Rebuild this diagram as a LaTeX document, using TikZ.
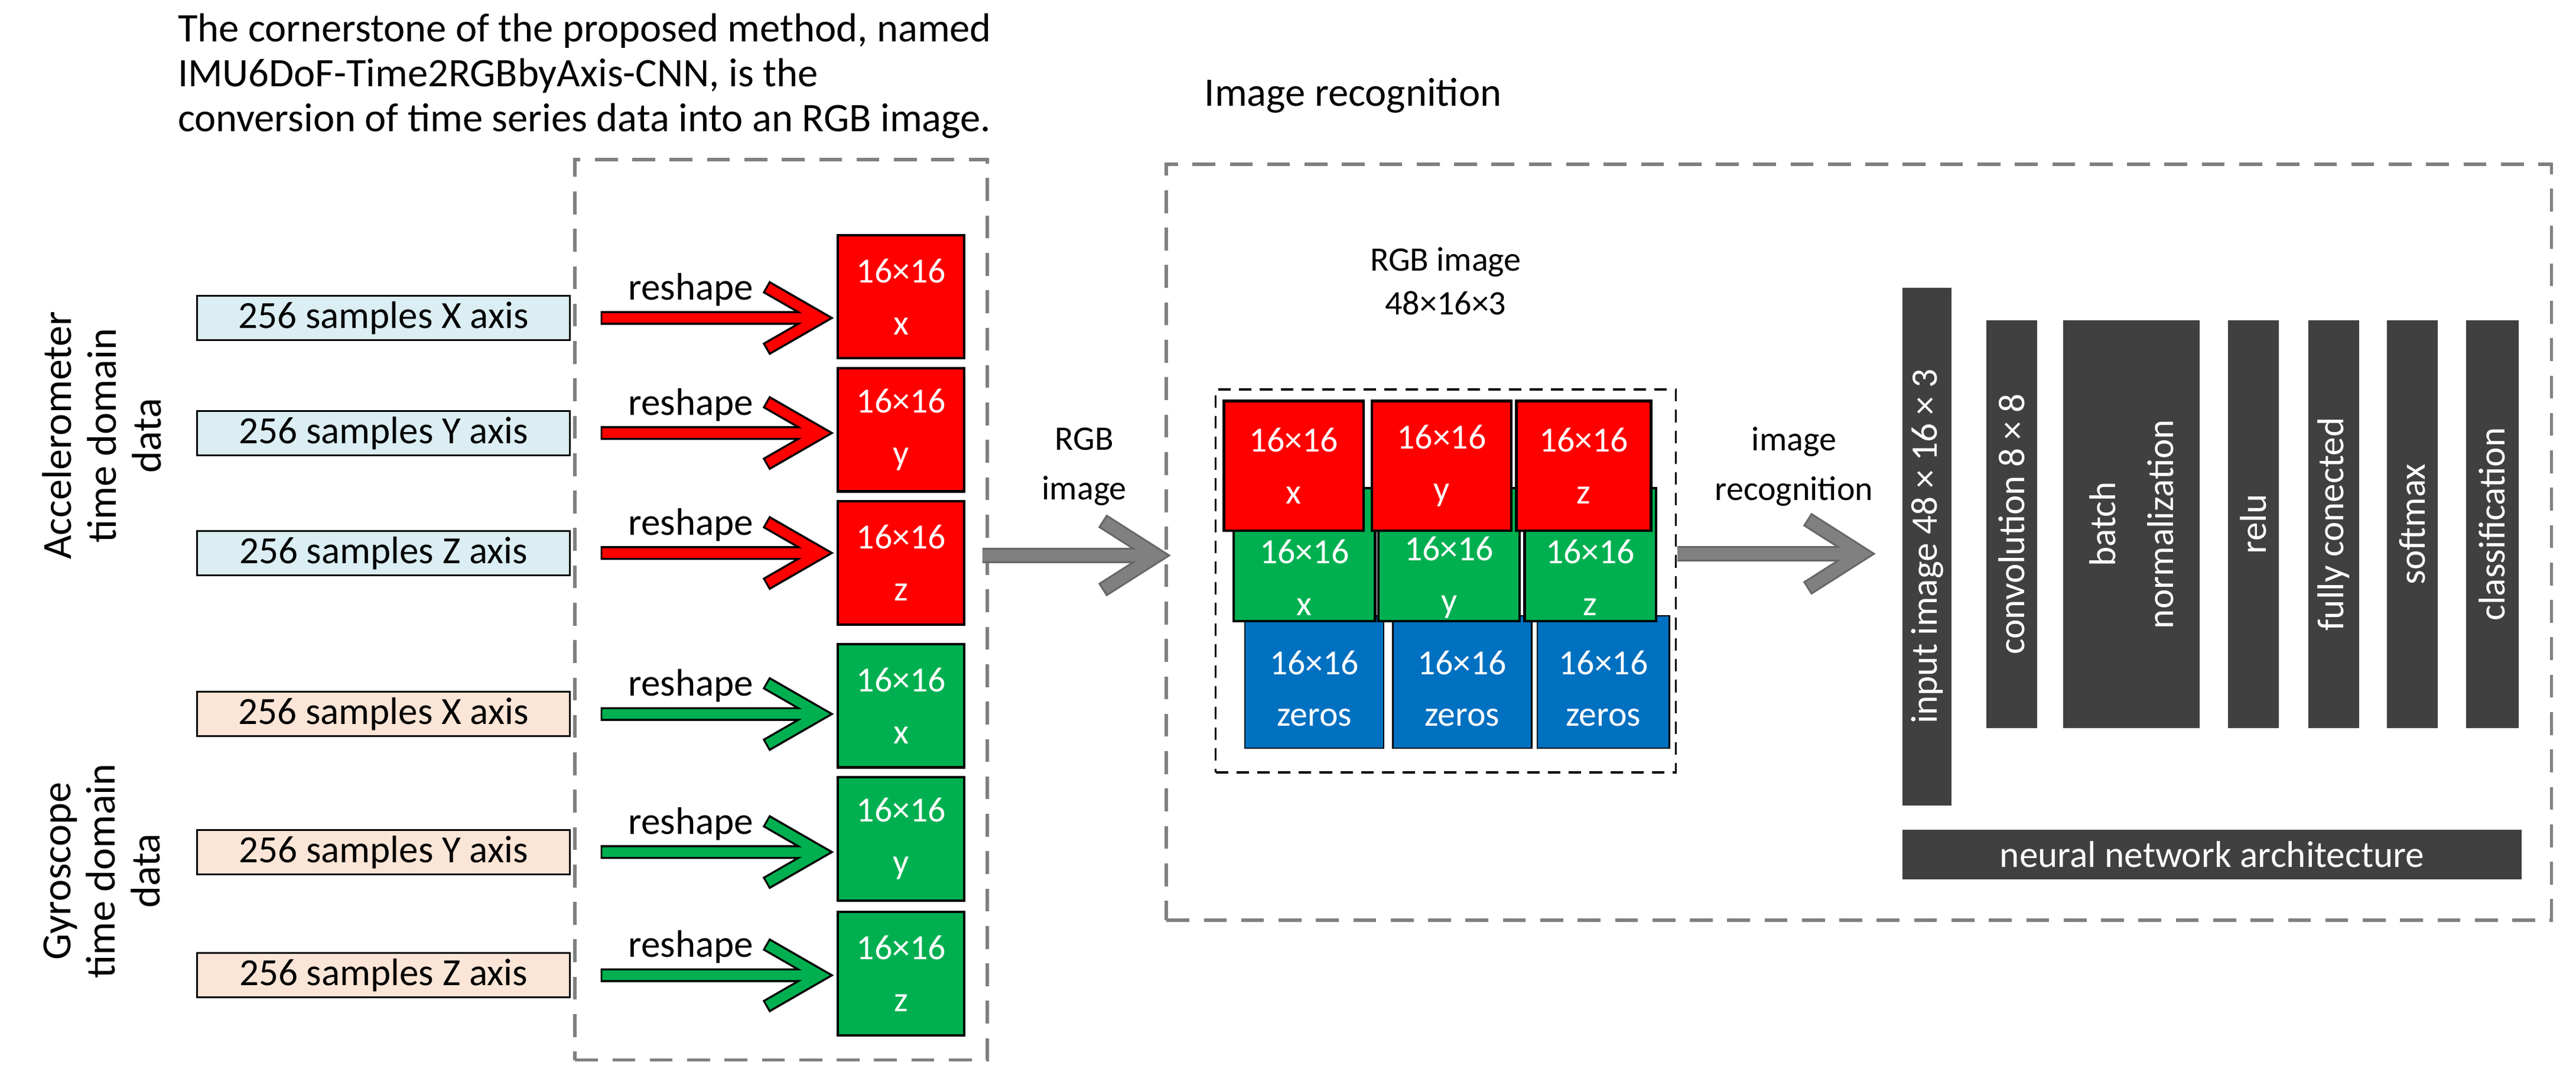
\documentclass[tikz,border=0pt]{standalone}
\usepackage{fontspec}
\setmainfont{Carlito}
\usetikzlibrary{calc}
\definecolor{cR}{HTML}{FF0000}
\definecolor{cG}{HTML}{00B050}
\definecolor{cB}{HTML}{0070C0}
\definecolor{cLB}{HTML}{DAEEF3}
\definecolor{cPe}{HTML}{FBE5D6}
\definecolor{cDk}{HTML}{404040}
\definecolor{cGr}{HTML}{808080}
\newcommand\bx[7]{\node[#1,minimum width={(#5-#3)*0.0278cm},minimum height={(#6-#4)*0.0278cm}] (#2) at ({(#3+#5)/2},{(#4+#6)/2}) {#7};}
\newcommand\chev[3]{%
 \coordinate (T) at ($(#2.east -| #3.west)+(-10,0)$);
 \draw[black,line width=6.6pt,miter limit=10] ($(#2.east)+(18,0)$) -- (T) ($(T)+(-33,-19)$) -- (T) -- ($(T)+(-33,19)$);
 \draw[#1,line width=4.6pt,miter limit=10] ($(#2.east)+(19,0)$) -- (T) ($(T)+(-32,-18.4)$) -- (T) -- ($(T)+(-32,18.4)$);
 \node[font=\fontsize{18.5}{20}\selectfont,anchor=base] at ($(#2.east)+(73,-11)$) {reshape};}
\newcommand\garrow[2]{%
 \coordinate (T) at (#2);
 \draw[cGr!80!black,line width=7.4pt,miter limit=10] (#1) -- (T) ($(T)+(-33,-21)$) -- (T) -- ($(T)+(-33,21)$);
 \draw[cGr,line width=5.6pt,miter limit=10] (#1) -- (T) ($(T)+(-32,-20.4)$) -- (T) -- ($(T)+(-32,20.4)$);}
\tikzset{
 inb/.style={draw=black,line width=0.9pt,font=\fontsize{18.5}{20}\selectfont,inner sep=0pt},
 blk/.style={draw=black,line width=1.2pt,text=white,align=center,font=\fontsize{17}{25}\selectfont,inner sep=0pt},
 bt/.style={text=white,align=center,font=\fontsize{17}{25}\selectfont},
 bar/.style={fill=cDk,inner sep=0pt},
 bart/.style={text=white,rotate=90,font=\fontsize{18}{19}\selectfont,align=center},
 dbox/.style={draw=cGr,line width=1.6pt,dash pattern=on 11pt off 7pt,inner sep=0pt},
}
\begin{document}
\begin{tikzpicture}[x=0.0278cm,y=-0.0278cm]
\useasboundingbox (0,0) rectangle (1568,654);
% title
\node[anchor=north west,align=left,font=\fontsize{19.5}{21.6}\selectfont,inner sep=0pt] (title) at (108,8) {The cornerstone of the proposed method, named\\IMU6DoF-Time2RGBbyAxis-CNN, is the\\conversion of time series data into an RGB image.};
\node[anchor=west,font=\fontsize{19.5}{20}\selectfont,inner sep=0pt] (irt) at (733,58) {Image recognition};
% dashed boxes
\bx{dbox}{d1}{350}{97}{601}{645}{}
\bx{dbox}{d2}{710}{100}{1553}{560}{}
% side labels
\node[rotate=90,align=center,font=\fontsize{20}{21.5}\selectfont] (acc) at (62,265) {Accelerometer\\time domain\\data};
\node[rotate=90,align=center,font=\fontsize{20}{21.5}\selectfont] (gyr) at (62,530) {Gyroscope\\time domain\\data};
% inputs
\bx{inb,fill=cLB}{i1}{120}{180}{347}{207}{256 samples X axis}
\bx{inb,fill=cLB}{i2}{120}{250}{347}{277}{256 samples Y axis}
\bx{inb,fill=cLB}{i3}{120}{323}{347}{350}{256 samples Z axis}
\bx{inb,fill=cPe}{i4}{120}{421}{347}{448}{256 samples X axis}
\bx{inb,fill=cPe}{i5}{120}{505}{347}{532}{256 samples Y axis}
\bx{inb,fill=cPe}{i6}{120}{580}{347}{607}{256 samples Z axis}
% reshaped blocks
\bx{blk,fill=cR}{r1}{510}{143}{587}{218}{16×16\\x}
\bx{blk,fill=cR}{r2}{510}{224}{587}{299}{16×16\\y}
\bx{blk,fill=cR}{r3}{510}{305}{587}{380}{16×16\\z}
\bx{blk,fill=cG}{g1}{510}{392}{587}{467}{16×16\\x}
\bx{blk,fill=cG}{g2}{510}{473}{587}{548}{16×16\\y}
\bx{blk,fill=cG}{g3}{510}{555}{587}{630}{16×16\\z}
\chev{cR}{i1}{r1}
\chev{cR}{i2}{r2}
\chev{cR}{i3}{r3}
\chev{cG}{i4}{g1}
\chev{cG}{i5}{g2}
\chev{cG}{i6}{g3}
% RGB image arrow
\coordinate (a1) at (598,338);
\garrow{a1}{$(d2.west |- a1)+(-5,0)$}
\node[align=center,font=\fontsize{16.5}{24}\selectfont] (rgbl) at (660,284) {RGB\\image};
% RGB stack
\bx{draw=black,line width=1pt,dash pattern=on 6pt off 4pt,inner sep=0pt}{d3}{740}{237}{1020}{470}{}
\node[align=center,font=\fontsize{16.5}{21}\selectfont] (rgbt) at (880,171) {RGB image\\48×16×3};
\bx{blk}{b1}{758}{375}{842}{455}{}
\bx{blk}{b2}{848}{375}{932}{455}{}
\bx{blk}{b3}{936}{375}{1016}{455}{}
\foreach \n in {b1,b2,b3}{\fill[cB] ($(\n.south west)+(1,-1)$) rectangle ($(\n.north east)+(-1,1)$); \node[bt] at ($(\n.center)+(0,4)$) {16×16\\zeros};}
\bx{blk,fill=cG}{gg1}{751}{297}{837}{378}{}
\bx{blk,fill=cG}{gg2}{839}{297}{925}{378}{}
\bx{blk,fill=cG}{gg3}{928}{297}{1008}{378}{}
\node[bt] at ($(gg1.center)+(0,14)$) {16×16\\x};
\node[bt] at ($(gg2.center)+(0,14)$) {16×16\\y};
\node[bt] at ($(gg3.center)+(0,14)$) {16×16\\z};
\bx{blk,fill=cR}{rr1}{745}{244}{830}{323}{16×16\\x}
\bx{blk,fill=cR}{rr2}{835}{244}{920}{323}{16×16\\y}
\bx{blk,fill=cR}{rr3}{923}{244}{1005}{323}{16×16\\z}
% image recognition arrow
\coordinate (a2) at (1021,337);
\garrow{a2}{1133,337}
\node[align=center,font=\fontsize{16.5}{24}\selectfont] (irl) at (1092,284) {image\\recognition};
% network bars
\bx{bar}{n1}{1158}{175}{1188}{490}{}
\node[bart] at (n1) {input image 48 × 16 × 3};
\bx{bar}{n2}{1209}{195}{1240}{443}{}
\node[bart] at (n2) {convolution 8 × 8};
\bx{bar}{n3}{1256}{195}{1339}{443}{}
\node[bart,font=\fontsize{18}{28}\selectfont] at (n3) {batch\\normalization};
\bx{bar}{n4}{1356}{195}{1387}{443}{}
\node[bart] at (n4) {relu};
\bx{bar}{n5}{1405}{195}{1436}{443}{}
\node[bart] at (n5) {fully conected};
\bx{bar}{n6}{1453}{195}{1484}{443}{}
\node[bart] at (n6) {softmax};
\bx{bar}{n7}{1501}{195}{1533}{443}{}
\node[bart] at (n7) {classification};
\bx{bar}{n8}{1158}{505}{1535}{535}{}
\node[text=white,font=\fontsize{18}{19}\selectfont] at (n8) {neural network architecture};
\end{tikzpicture}
\end{document}
